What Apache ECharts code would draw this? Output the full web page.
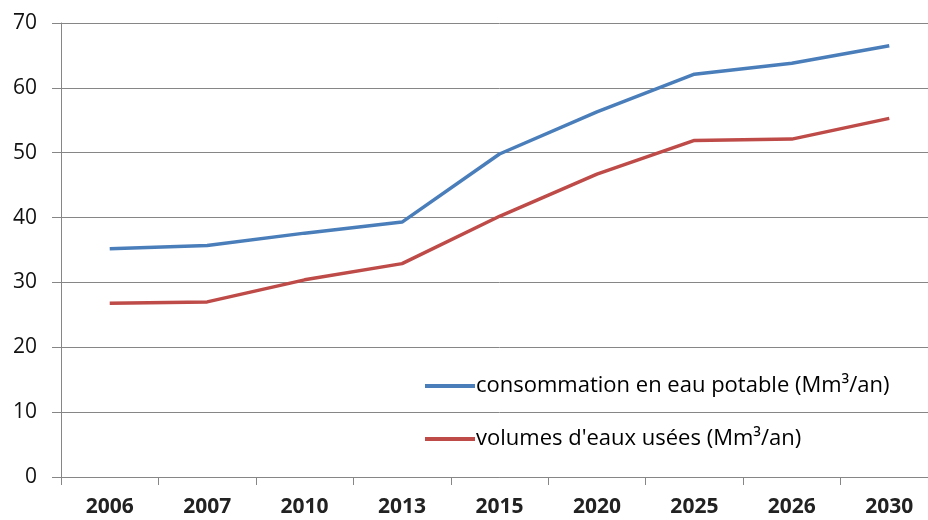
<!DOCTYPE html>
<html><head><meta charset="utf-8">
<script src="https://cdn.jsdelivr.net/npm/echarts@6/dist/echarts.min.js"></script>
<style>html,body{margin:0;padding:0;background:#fff;overflow:hidden;width:928px;height:520px}#c{width:938px;height:520px}</style>
</head><body><div id="c"></div>
<script>
var categories = ['2006','2007','2010','2013','2015','2020','2025','2026','2030'];
var consommation = [35.2, 35.7, 37.6, 39.3, 49.8, 56.3, 62.1, 63.8, 66.5];
var eauxUsees = [26.8, 27.0, 30.4, 32.9, 40.2, 46.7, 51.9, 52.1, 55.3];
var seriesNames = ['consommation en eau potable (Mm³/an)', 'volumes d\'eaux usées (Mm³/an)'];
var yTicks = {min: 0, max: 70, interval: 10};

var font = '"Open Sans", sans-serif';
var chart = echarts.init(document.getElementById('c'));
chart.setOption({
  animation: false,
  backgroundColor: '#fff',
  grid: {left: 61, right: 0, top: 23, bottom: 43, containLabel: false},
  legend: {
    orient: 'vertical', left: 420, top: 370, itemGap: 31,
    icon: 'rect', itemWidth: 50, itemHeight: 4,
    textStyle: {fontFamily: font, fontSize: 22, color: '#000', padding: [0,0,0,-4]},
    data: seriesNames
  },
  xAxis: {
    type: 'category', data: categories, boundaryGap: true,
    axisLine: {lineStyle: {color: '#868686', width: 1}},
    axisTick: {show: true, length: 8, lineStyle: {color: '#868686'}},
    axisLabel: {fontFamily: font, fontSize: 21, fontWeight: 'bold', color: '#222', margin: 20}
  },
  yAxis: {
    type: 'value', min: yTicks.min, max: yTicks.max, interval: yTicks.interval,
    axisLine: {show: true, lineStyle: {color: '#868686', width: 1}},
    axisTick: {show: true, length: 9, lineStyle: {color: '#868686'}},
    splitLine: {lineStyle: {color: '#868686', width: 1}},
    axisLabel: {fontFamily: font, fontSize: 21, color: '#111', margin: 24}
  },
  series: [
    {name: seriesNames[0], type: 'line', data: consommation, symbol: 'none',
     lineStyle: {color: '#4A7EBB', width: 3.5}, itemStyle: {color: '#4A7EBB'}},
    {name: seriesNames[1], type: 'line', data: eauxUsees, symbol: 'none',
     lineStyle: {color: '#BE4B48', width: 3.5}, itemStyle: {color: '#BE4B48'}}
  ]
});
</script></body></html>
